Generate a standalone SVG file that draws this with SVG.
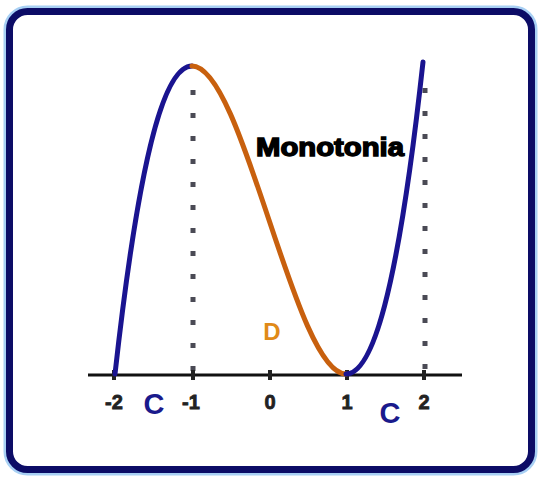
<svg xmlns="http://www.w3.org/2000/svg" width="539" height="477" viewBox="0 0 539 477">
<style>
.tick{font-family:"Liberation Sans",Arial,sans-serif;font-weight:bold;font-size:20px;fill:#222;stroke:#222;stroke-width:0.8;text-anchor:middle}
.lblC{font-family:"Liberation Sans",Arial,sans-serif;font-weight:bold;font-size:29px;fill:#1a1a8c;text-anchor:middle}
.dots{stroke:#4a4a55;stroke-width:5;stroke-dasharray:5 18;fill:none}
.inc{stroke:#1a1490;stroke-width:5;fill:none;stroke-linecap:round}
.dec{stroke:#c8600e;stroke-width:5;fill:none;stroke-linecap:round}
</style>
<rect width="539" height="477" fill="#ffffff"/>
<g id="frame">
<rect x="9.5" y="11.5" width="522" height="458" rx="18" fill="#fbfdff" stroke="#a8d0f4" stroke-width="12"/>
<rect x="9.5" y="11.5" width="522" height="458" rx="18" fill="#ffffff" stroke="#0c0c66" stroke-width="7"/>
</g>
<g id="guides">
<line class="dots" x1="193" y1="90" x2="193" y2="372"/>
<line class="dots" x1="425" y1="88" x2="425" y2="372"/>
</g>
<g id="axis">
<line x1="88" y1="375" x2="462" y2="375" stroke="#111" stroke-width="3"/>
<g stroke="#222" stroke-width="4">
<line x1="114" y1="370" x2="114" y2="380"/>
<line x1="193" y1="370" x2="193" y2="380"/>
<line x1="270" y1="370" x2="270" y2="380"/>
<line x1="347" y1="370" x2="347" y2="380"/>
<line x1="424" y1="370" x2="424" y2="380"/>
</g>
<text class="tick" x="114" y="409">-2</text>
<text class="tick" x="191" y="409">-1</text>
<text class="tick" x="270" y="409">0</text>
<text class="tick" x="347" y="409">1</text>
<text class="tick" x="424" y="409">2</text>
</g>
<g id="connectors">
<path class="inc" d="M115,374 C140.7,143 166.3,66 192,66"/>
<path class="dec" d="M192,66 C243.3,66 294.7,374 346,374"/>
<path class="inc" d="M346,374 C371.7,374 397.3,297 423,62"/>
</g>
<g id="labels">
<text x="330" y="156" font-family="'Liberation Sans',Arial,sans-serif" font-weight="bold" font-size="25" fill="#000" stroke="#000" stroke-width="1.4" text-anchor="middle" textLength="148" lengthAdjust="spacingAndGlyphs">Monotonia</text>
<text x="272" y="340" font-family="'Liberation Sans',Arial,sans-serif" font-weight="bold" font-size="24" fill="#e08a18" text-anchor="middle">D</text>
<text class="lblC" x="154" y="414">C</text>
<text class="lblC" x="390" y="423">C</text>
</g>
</svg>
